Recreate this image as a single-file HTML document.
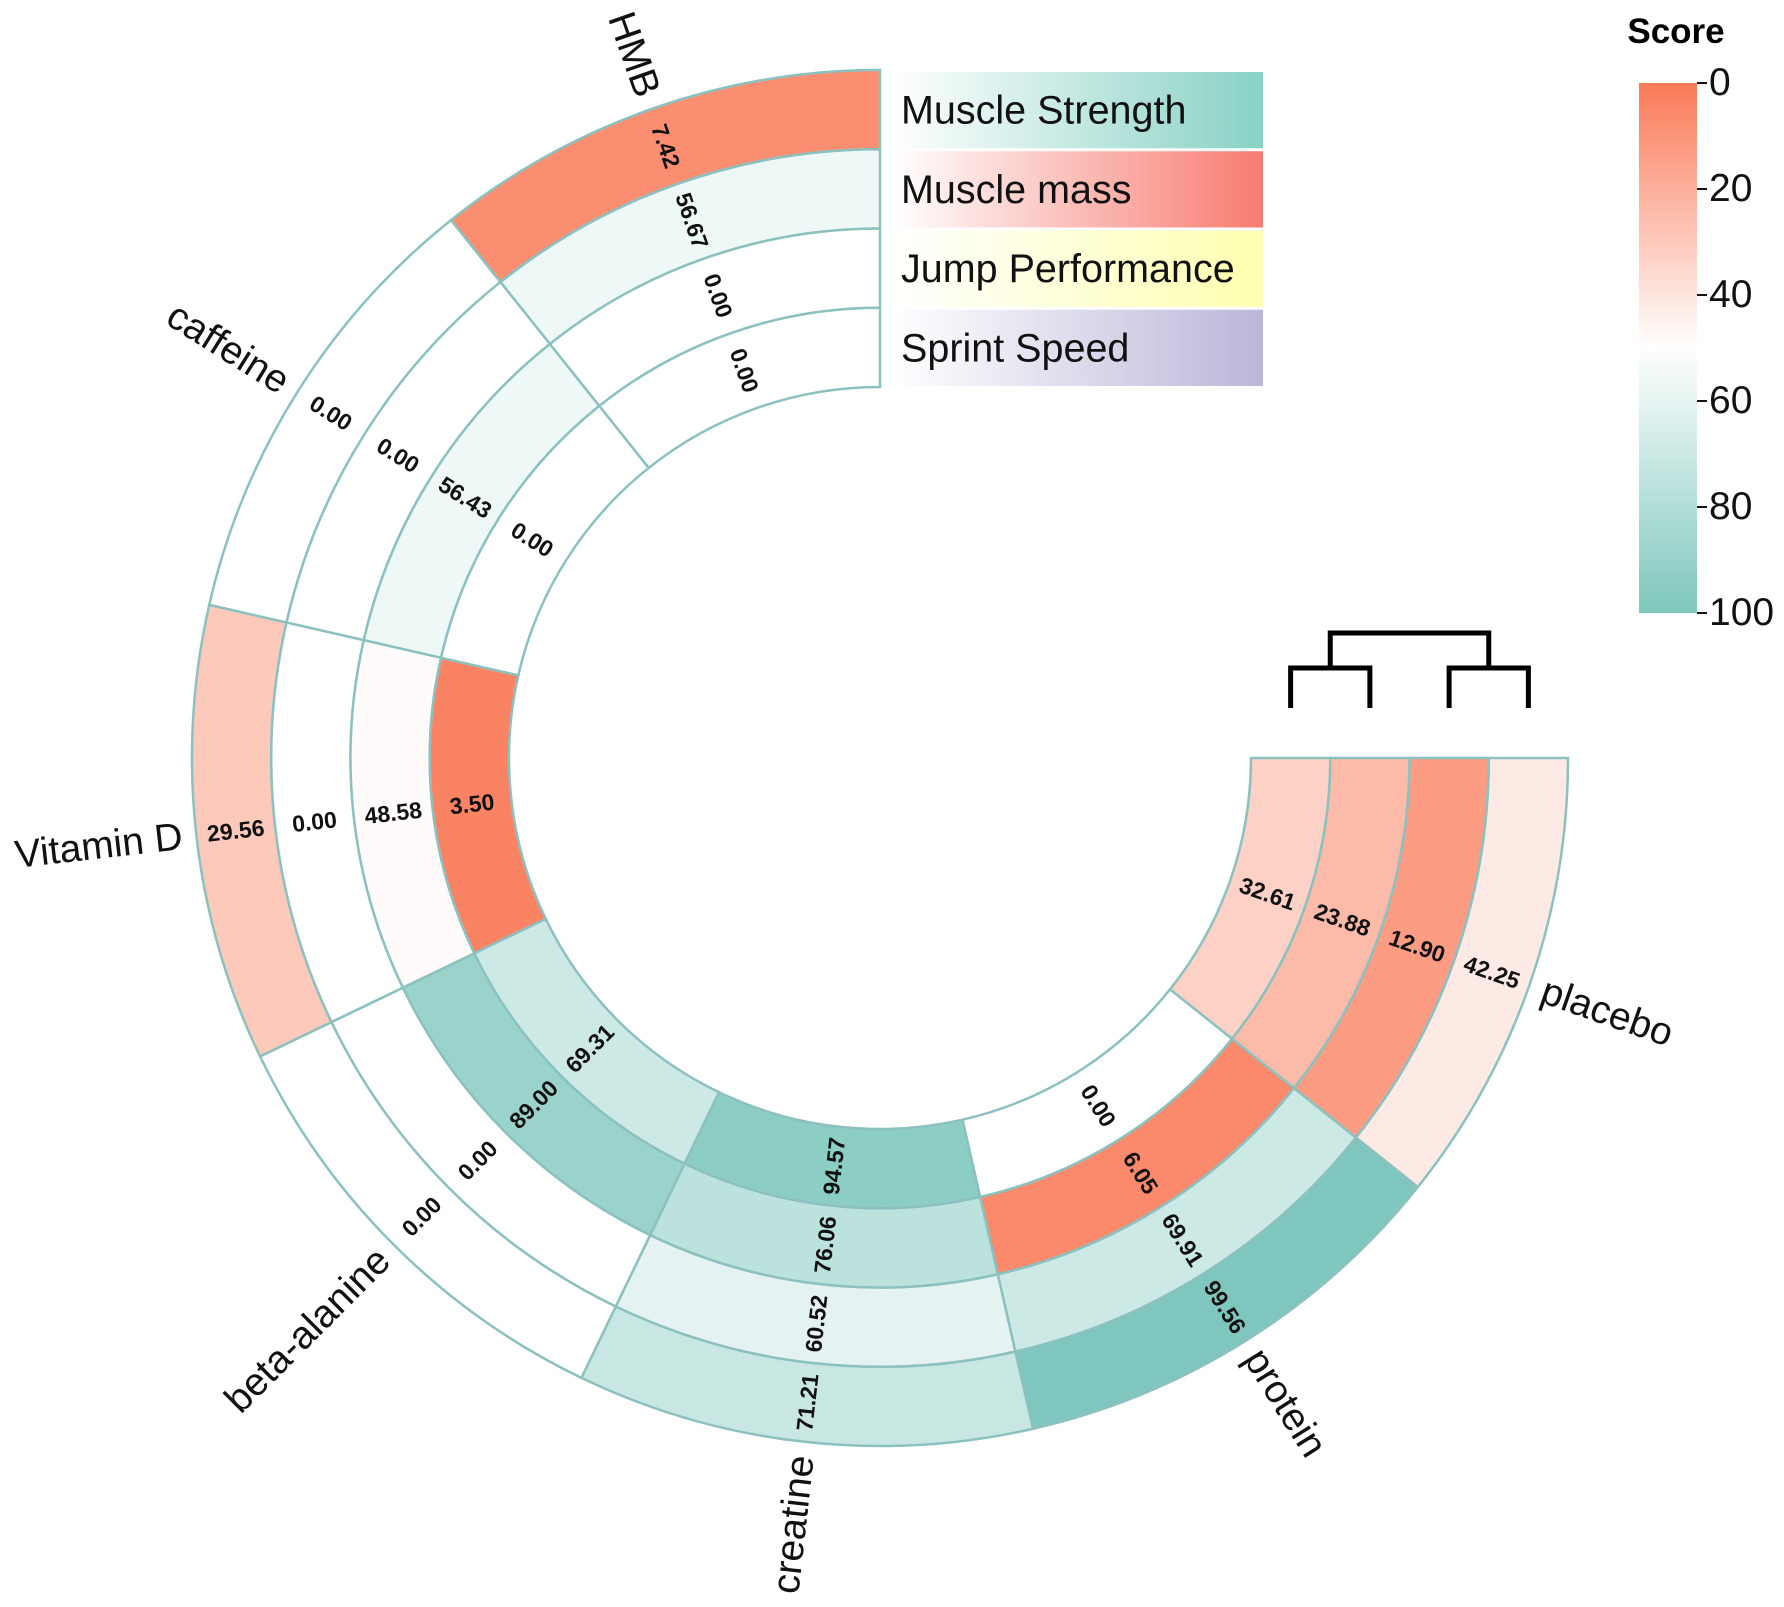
<!DOCTYPE html>
<html><head><meta charset="utf-8"><style>
html,body{margin:0;padding:0;background:#fff;}
svg{display:block;font-family:"Liberation Sans",Arial,sans-serif;}
</style></head><body>
<svg id="chart" width="1784" height="1607" viewBox="0 0 1784 1607" xmlns="http://www.w3.org/2000/svg">
<defs>
<linearGradient id="cbar" x1="0" y1="0" x2="0" y2="1">
<stop offset="0" stop-color="#FA7A58"/><stop offset="0.5" stop-color="#FFFFFF"/><stop offset="1" stop-color="#7EC7BD"/>
</linearGradient>
<linearGradient id="lg0" x1="0" x2="1"><stop offset="0" stop-color="#fff"/><stop offset="1" stop-color="#88D1C5"/></linearGradient>
<linearGradient id="lg1" x1="0" x2="1"><stop offset="0" stop-color="#fff"/><stop offset="1" stop-color="#F77B70"/></linearGradient>
<linearGradient id="lg2" x1="0" x2="1"><stop offset="0" stop-color="#fff"/><stop offset="1" stop-color="#FFFFB0"/></linearGradient>
<linearGradient id="lg3" x1="0" x2="1"><stop offset="0" stop-color="#fff"/><stop offset="1" stop-color="#BCB6D9"/></linearGradient>
</defs>
<g id="cells"></g>
<g id="vals"></g>
<g id="labels"></g>
<g id="legend"></g>
<g id="dendro"></g>
<g id="cb">
<text x="1676" y="43" font-size="35" font-weight="bold" text-anchor="middle">Score</text>
<rect x="1639" y="83" width="58" height="530" fill="url(#cbar)"/>
</g>
</svg>
<script>
const sectors = ["HMB","caffeine","Vitamin D","beta-alanine","creatine","protein","placebo"];
const tracks = ["Muscle Strength","Muscle mass","Jump Performance","Sprint Speed"];
const strength = [7.42, 0.00, 29.56, 0.00, 71.21, 99.56, 42.25];
const mass = [56.67, 0.00, 0.00, 0.00, 60.52, 69.91, 12.90];
const jump = [0.00, 56.43, 48.58, 89.00, 76.06, 6.05, 23.88];
const sprint = [0.00, 0.00, 3.50, 69.31, 94.57, 0.00, 32.61];
const cbTicks = [0, 20, 40, 60, 80, 100];

const NS = "http://www.w3.org/2000/svg";
const cx = 880, cy = 758, rIn = 371, rOut = 688, span = 270;
const cbTop = 83, cbH = 530, cbRight = 1697;
const series = [strength, mass, jump, sprint];
const rw = (rOut - rIn) / tracks.length;
function ang(i){ return i * span / sectors.length; }
function pt(r, a){ const t = a * Math.PI / 180; return [cx - r * Math.sin(t), cy - r * Math.cos(t)]; }
function col(v){
  if (v === 0) return "#FFFFFF";
  let a, t;
  if (v <= 50){ a = [250,122,88]; t = (50 - v) / 50; } else { a = [126,199,189]; t = (v - 50) / 50; }
  const c = a.map(x => Math.round(255 + (x - 255) * t));
  return `rgb(${c[0]},${c[1]},${c[2]})`;
}
function mk(tag, attrs, parent){ const e = document.createElementNS(NS, tag); for (const k in attrs) e.setAttribute(k, attrs[k]); parent.appendChild(e); return e; }
function rot(a){
  const d = Math.atan2(-Math.cos(a*Math.PI/180), -Math.sin(a*Math.PI/180)) * 180 / Math.PI;
  if (Math.cos(d*Math.PI/180) < -1e-6) return {r: d + 180, toward: true};
  return {r: d, toward: false};
}
const cellsG = document.getElementById("cells"), valsG = document.getElementById("vals"), labG = document.getElementById("labels");
series.forEach((s, k) => {
  const r1 = rOut - k * rw, r0 = r1 - rw, rm = (r0 + r1) / 2;
  s.forEach((v, i) => {
    const a0 = ang(i), a1 = ang(i + 1);
    const p0 = pt(r1, a0), p1 = pt(r1, a1), p2 = pt(r0, a1), p3 = pt(r0, a0);
    const d = `M${p0[0]},${p0[1]} A${r1},${r1} 0 0 0 ${p1[0]},${p1[1]} L${p2[0]},${p2[1]} A${r0},${r0} 0 0 1 ${p3[0]},${p3[1]} Z`;
    const path = mk("path", {d: d, fill: col(v), stroke: "#8CC1C0", "stroke-width": 2.5}, cellsG);
    
    
    const am = (a0 + a1) / 2, p = pt(rm, am), ro = rot(am);
    const t = mk("text", {x: p[0], y: p[1], transform: `rotate(${ro.r} ${p[0]} ${p[1]})`, "text-anchor": "middle", "dominant-baseline": "central", "font-size": 23, "font-weight": "bold", fill: "#111"}, valsG);
    t.textContent = v.toFixed(2);
    
    
  });
});
sectors.forEach((name, i) => {
  const am = ang(i + 0.5), p = pt(rOut + 14, am), ro = rot(am);
  const t = mk("text", {x: p[0], y: p[1], transform: `rotate(${ro.r} ${p[0]} ${p[1]})`, "text-anchor": ro.toward ? "end" : "start", "dominant-baseline": "central", "font-size": 39, fill: "#111"}, labG);
  t.textContent = name;
  
  
});
const legG = document.getElementById("legend");
tracks.forEach((name, k) => {
  const y0 = cy - rOut + k * rw;
  const r = mk("rect", {x: 893, y: y0 + 2, width: 370, height: rw - 3, fill: `url(#lg${k})`}, legG);
  
  
  const t = mk("text", {x: 901, y: y0 + rw / 2 + 14, "font-size": 39.5, fill: "#111"}, legG);
  t.textContent = name;
  
  
});
const dG = document.getElementById("dendro");
const lx = tracks.map((_, k) => cx + rIn + (tracks.length - 1 - k + 0.5) * rw);
const dl = [[lx[3], lx[2], 668], [lx[1], lx[0], 668]];
const segs = [];
dl.forEach(([a, b, y]) => { segs.push(`M${a},708 V${y} H${b} V708`); });
const m1 = (lx[3] + lx[2]) / 2, m2 = (lx[1] + lx[0]) / 2;
segs.push(`M${m1},668 V633 H${m2} V668`);
const dp = mk("path", {d: segs.join(" "), fill: "none", stroke: "#000", "stroke-width": 5}, dG);


const cbG = document.getElementById("cb");
cbTicks.forEach(v => {
  const y = cbTop + v / 100 * cbH;
  const l = mk("line", {x1: cbRight, x2: cbRight + 10, y1: y, y2: y, stroke: "#111", "stroke-width": 2}, cbG);
  
  
  const t = mk("text", {x: cbRight + 12, y: y + 12, "font-size": 39, fill: "#111"}, cbG);
  t.textContent = String(v);
  
  
});
</script>
</body></html>
